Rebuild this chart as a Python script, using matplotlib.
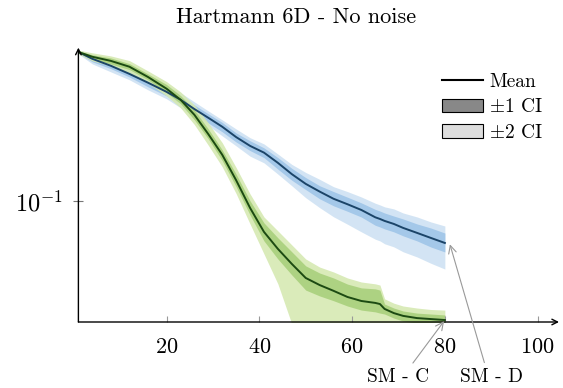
import matplotlib
matplotlib.use('Agg')
import matplotlib.pyplot as plt
import numpy as np
from matplotlib.lines import Line2D
from matplotlib.patches import Patch
from matplotlib.ticker import NullLocator, FixedLocator

plt.rcParams['font.family'] = ['cmr10', 'DejaVu Serif']
plt.rcParams['mathtext.fontset'] = 'cm'
plt.rcParams['axes.formatter.use_mathtext'] = True

iters = [1, 4, 8, 12, 16, 20, 23, 26, 29, 32, 35, 38, 41, 44, 47, 50,
         53, 56, 59, 62, 65, 66, 67, 69, 71, 74, 77, 80]

# SM - D (blue)
smd_mean = [0.394, 0.370, 0.347, 0.322, 0.297, 0.273, 0.254, 0.233, 0.215, 0.198,
            0.180, 0.166, 0.156, 0.142, 0.128, 0.117, 0.109, 0.102, 0.097, 0.092,
            0.086, 0.0847, 0.0832, 0.0809, 0.078, 0.0745, 0.0711, 0.0679]
smd_hi1 = [0.398, 0.380, 0.357, 0.331, 0.308, 0.283, 0.264, 0.242, 0.223, 0.206,
           0.187, 0.174, 0.163, 0.149, 0.135, 0.124, 0.115, 0.109, 0.1035, 0.0982,
           0.0925, 0.0911, 0.0895, 0.0870, 0.0847, 0.0809, 0.0779, 0.0744]
smd_lo1 = [0.390, 0.360, 0.338, 0.313, 0.286, 0.263, 0.245, 0.225, 0.205, 0.189,
           0.172, 0.159, 0.149, 0.134, 0.121, 0.111, 0.102, 0.0956, 0.0909, 0.0862,
           0.0799, 0.0787, 0.0773, 0.0752, 0.0725, 0.0692, 0.0654, 0.0625]
smd_hi2 = [0.401, 0.387, 0.363, 0.340, 0.314, 0.291, 0.271, 0.249, 0.229, 0.211,
           0.194, 0.179, 0.169, 0.154, 0.140, 0.130, 0.122, 0.114, 0.109, 0.1037,
           0.0979, 0.0964, 0.0947, 0.0929, 0.0895, 0.0863, 0.0824, 0.0794]
smd_lo2 = [0.387, 0.353, 0.328, 0.305, 0.278, 0.256, 0.236, 0.216, 0.200, 0.182,
           0.166, 0.151, 0.142, 0.128, 0.115, 0.103, 0.094, 0.0864, 0.0807, 0.0752,
           0.0703, 0.0692, 0.0674, 0.0655, 0.0626, 0.0597, 0.0563, 0.0534]

# SM - C (green)
smc_mean = [0.394, 0.377, 0.363, 0.344, 0.313, 0.281, 0.254, 0.221, 0.185, 0.153,
            0.121, 0.0938, 0.0752, 0.0643, 0.0560, 0.0492, 0.0461, 0.0437, 0.0413, 0.0398,
            0.0391, 0.0387, 0.0370, 0.0356, 0.0347, 0.0340, 0.0337, 0.0334]
smc_hi1 = [0.398, 0.384, 0.373, 0.354, 0.322, 0.292, 0.264, 0.231, 0.194, 0.160,
           0.128, 0.1001, 0.0817, 0.0712, 0.0626, 0.0550, 0.0515, 0.0492, 0.0465, 0.0449,
           0.0445, 0.0440, 0.0387, 0.0373, 0.0363, 0.0356, 0.0353, 0.0350]
smc_lo1 = [0.390, 0.370, 0.353, 0.335, 0.305, 0.271, 0.245, 0.211, 0.177, 0.145,
           0.114, 0.0879, 0.0692, 0.0586, 0.0506, 0.0440, 0.0417, 0.0399, 0.0380, 0.0366,
           0.0360, 0.0356, 0.0353, 0.0340, 0.0331, 0.0325, 0.0322, 0.0319]
smc_hi2 = [0.401, 0.391, 0.380, 0.364, 0.331, 0.300, 0.273, 0.242, 0.205, 0.171,
           0.136, 0.1067, 0.0863, 0.0759, 0.0667, 0.0586, 0.0544, 0.0520, 0.0492, 0.0474,
           0.0466, 0.0461, 0.0406, 0.0390, 0.0380, 0.0373, 0.0368, 0.0366]
smc_lo2 = [0.387, 0.363, 0.347, 0.325, 0.296, 0.263, 0.236, 0.202, 0.167, 0.137,
           0.107, 0.0809, 0.0614, 0.0466, 0.0322, 0.0283, 0.0265, 0.0251, 0.0237, 0.0229,
           0.0225, 0.0223, 0.0213, 0.0205, 0.0200, 0.0196, 0.0194, 0.0192]

x_ticks = [20, 40, 60, 80, 100]
y_ticks = [0.1]

W, H = 563, 388
fig = plt.figure(figsize=(W / 100, H / 100), dpi=100)
ax = fig.add_axes([78.4 / W, (H - 322) / H, (559 - 78.4) / W, (322 - 49) / H])

ax.fill_between(iters, smd_lo2, smd_hi2, color='#cfe2f3', lw=0, alpha=0.9)
ax.fill_between(iters, smd_lo1, smd_hi1, color='#9fc5e8', lw=0, alpha=0.9)
ax.fill_between(iters, smc_lo2, smc_hi2, color='#d6e9b3', lw=0, alpha=0.9)
ax.fill_between(iters, smc_lo1, smc_hi1, color='#a9d07c', lw=0, alpha=0.9)
ax.plot(iters, smd_mean, color='#1b4468', lw=1.4)
ax.plot(iters, smc_mean, color='#1c4a12', lw=1.4)

ax.set_yscale('log')
ax.set_xlim(1, 104.6)
ax.set_ylim(0.0328, 0.405)
ax.xaxis.set_major_locator(FixedLocator(x_ticks))
ax.yaxis.set_major_locator(FixedLocator(y_ticks))
ax.yaxis.set_minor_locator(NullLocator())
ax.tick_params(axis='x', direction='in', length=4, color='#999999', labelsize=16, pad=11)
ax.tick_params(axis='y', direction='inout', length=7, color='#777777', labelsize=17.5, pad=8)

for s in ax.spines.values():
    s.set_visible(False)
ax.annotate('', xy=(0, 1.005), xytext=(0, 0), xycoords='axes fraction',
            arrowprops=dict(arrowstyle='->', lw=1.0, color='black', shrinkA=0, shrinkB=0))
ax.annotate('', xy=(1.0, 0), xytext=(0, 0), xycoords='axes fraction',
            arrowprops=dict(arrowstyle='->', lw=1.0, color='black', shrinkA=0, shrinkB=0))

fig.text(296 / W, 1 - 17 / H, 'Hartmann 6D - No noise', ha='center', va='center', fontsize=16)

handles = [Line2D([], [], color='black', lw=1.5),
           Patch(facecolor='#888888', edgecolor='black', lw=0.8),
           Patch(facecolor='#dddddd', edgecolor='black', lw=0.8)]
ax.legend(handles, ['Mean', r'$\pm$1 CI', r'$\pm$2 CI'], loc='upper left',
          bbox_to_anchor=(428 / W, 1 - 59 / H), bbox_transform=fig.transFigure,
          frameon=False, fontsize=14, handlelength=2.15, handletextpad=0.3,
          labelspacing=0.4, borderpad=0.2)

ax.annotate('SM - C', xy=(80, smc_mean[-1]), xytext=(398 / W, 1 - 377 / H),
            textcoords='figure fraction', ha='center', va='center', fontsize=14,
            annotation_clip=False,
            arrowprops=dict(arrowstyle='->', color='#999999', lw=0.8, relpos=(0.68, 1.0),
                            shrinkA=2, shrinkB=1))
ax.annotate('SM - D', xy=(81, smd_mean[-1]), xytext=(491 / W, 1 - 377 / H),
            textcoords='figure fraction', ha='center', va='center', fontsize=14,
            annotation_clip=False,
            arrowprops=dict(arrowstyle='->', color='#999999', lw=0.8, relpos=(0.42, 1.0),
                            shrinkA=2, shrinkB=1))

fig.savefig('out.png', dpi=100)
